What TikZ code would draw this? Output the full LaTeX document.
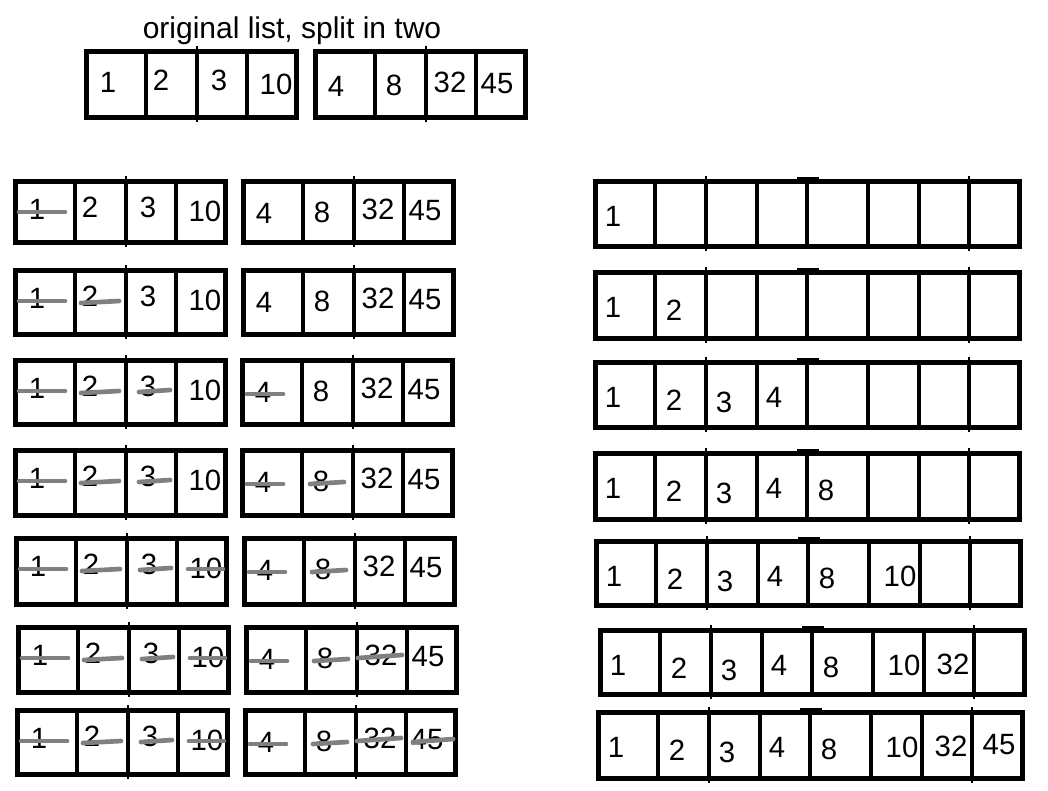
\documentclass[tikz,border=0pt]{standalone}
\usepackage{fontspec}
\setmainfont{Liberation Sans}
\definecolor{strikegray}{HTML}{808080}
\tikzset{
  boxline/.style={line width=3.75pt, line join=miter},
  divline/.style={line width=3pt},
  tickline/.style={line width=1.5pt},
  num/.style={font=\fontsize{22}{26}\selectfont, inner sep=0pt},
  strikeline/.style={draw=strikegray, line width=3.5pt, line cap=round},
  titletext/.style={font=\fontsize{22.5}{27}\selectfont, inner sep=0pt, anchor=base}
}
% half list box: #1 x, #2 top, #3 bottom
\newcommand\halfbox[3]{%
  \draw[tickline] (#1+111,#2-5) -- (#1+111,#3+5);
  \draw[boxline] (#1,#2) rectangle (#1+210,#3);
  \foreach \d in {60,111,161} \draw[divline] (#1+\d,#2) -- (#1+\d,#3);
}
% pair row: #1 idx, #2 L, #3 R, #4 top, #5 bottom, #6 struck left, #7 struck right, #8 text shift
\newcommand\pairrow[8]{%
  \halfbox{#2}{#4}{#5}
  \halfbox{#3}{#4}{#5}
  \foreach \dx/\dy/\t [count=\k] in {22/28/1,75/26/2,133/26/3,190/30/10}
    {\node[num] (p#1l\k) at (#2+\dx,#4+\dy+#8) {\t};}
  \foreach \dx/\dy/\t [count=\k] in {21/32/4,79/31/8,135/28/32,182/30/45}
    {\node[num] (p#1r\k) at (#3+\dx,#4+\dy+#8) {\t};}
  \foreach \ax/\ay/\bx/\by [count=\k] in {4/31/50/31,66/33/104/31,124/32/155/30,172/31/207/31}
    {\ifnum\k>#6\relax\else\draw[strikeline] (#2+\ax,#4+\ay) -- (#2+\bx,#4+\by);\fi}
  \foreach \ax/\ay/\bx/\by [count=\k] in {5/34/41/34,68/34/102/32,112/31/156/28,168/32/208/29}
    {\ifnum\k>#7\relax\else\draw[strikeline] (#3+\ax,#4+\ay) -- (#3+\bx,#4+\by);\fi}
}
% merged row: #1 idx, #2 x0, #3 top, #4 bottom, #5 count
\newcommand\mergerow[5]{%
  \draw[tickline] (#2+111,#3-5) -- (#2+111,#4+5);
  \draw[tickline] (#2+374,#3-5) -- (#2+374,#4+5);
  \draw[line width=2pt] (#2+202,#3-3) -- (#2+224,#3-3);
  \draw[boxline] (#2,#3) rectangle (#2+424,#4);
  \foreach \d in {60,111,162,212,273,324,374} \draw[divline] (#2+\d,#3) -- (#2+\d,#4);
  \foreach \dx/\dy/\t [count=\k] in {18/35/1,79/38/2,129/40/3,179/35/4,231/37/8,304/35/10,353/34/32,401/33/45}
    {\ifnum\k>#5\relax\else\node[num] (m#1n\k) at (#2+\dx,#3+\dy) {\t};\fi}
}
\begin{document}
\begin{tikzpicture}[x=0.75pt,y=-0.75pt]
  \useasboundingbox (0,0) rectangle (1048,790);
  \fill[white] (0,0) rectangle (1048,790);
  \node[titletext] (title) at (292,38) {original list, split in two};
  % original list
  \pairrow{0}{86}{315}{51}{117}{0}{0}{3}
  % merge steps, left side
  \pairrow{1}{15}{243}{181}{242}{1}{0}{0}
  \pairrow{2}{15}{243}{270}{334}{2}{0}{0}
  \pairrow{3}{15}{242}{360}{424}{3}{1}{0}
  \pairrow{4}{15}{242}{450}{515}{3}{2}{0}
  \pairrow{5}{16}{244}{538}{604}{4}{2}{0}
  \pairrow{6}{18}{246}{627}{692}{4}{3}{0}
  \pairrow{7}{17}{245}{710}{774}{4}{4}{0}
  % merged list, right side
  \mergerow{1}{595}{181}{246}{1}
  \mergerow{2}{595}{272}{338}{2}
  \mergerow{3}{595}{362}{427}{4}
  \mergerow{4}{595}{453}{519}{5}
  \mergerow{5}{596}{541}{605}{6}
  \mergerow{6}{600}{630}{694}{7}
  \mergerow{7}{598}{712}{778}{8}
\end{tikzpicture}
\end{document}
